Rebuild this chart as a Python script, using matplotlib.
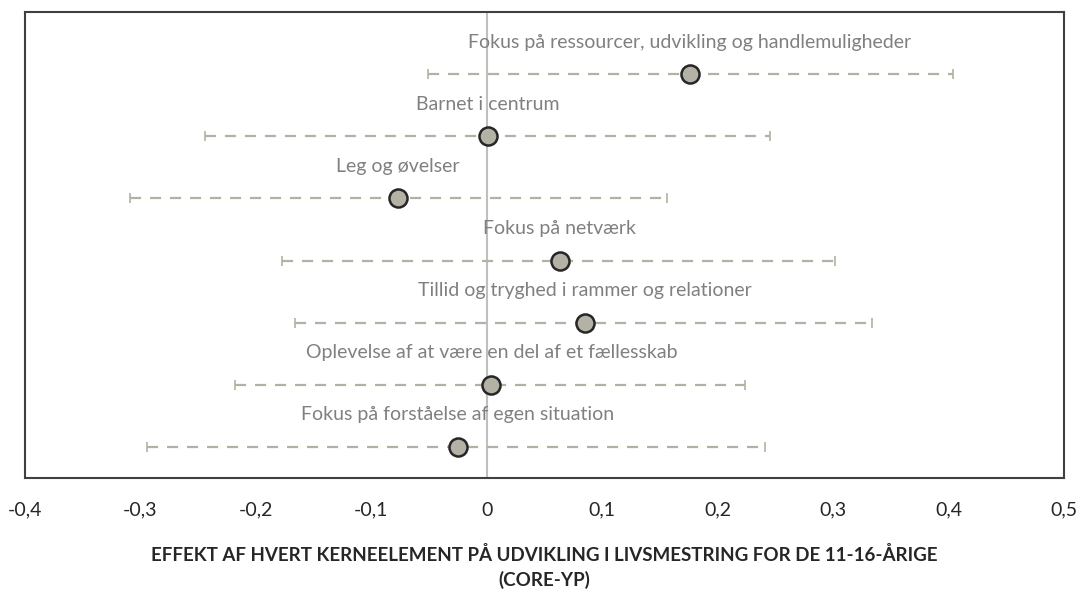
import numpy as np
import matplotlib.pyplot as plt

# Kerneelementer (top to bottom) with effect estimate and CI
elements = [
    "Fokus på ressourcer, udvikling og handlemuligheder",
    "Barnet i centrum",
    "Leg og øvelser",
    "Fokus på netværk",
    "Tillid og tryghed i rammer og relationer",
    "Oplevelse af at være en del af et fællesskab",
    "Fokus på forståelse af egen situation",
]
effect = [0.176, 0.001, -0.077, 0.063, 0.085, 0.004, -0.025]
ci_low = [-0.051, -0.244, -0.309, -0.177, -0.166, -0.218, -0.294]
ci_high = [0.404, 0.245, 0.156, 0.302, 0.334, 0.224, 0.241]

xticks = [-0.4, -0.3, -0.2, -0.1, 0, 0.1, 0.2, 0.3, 0.4, 0.5]
xtick_labels = ["-0,4", "-0,3", "-0,2", "-0,1", "0", "0,1", "0,2", "0,3", "0,4", "0,5"]
xlabel = "EFFEKT AF HVERT KERNEELEMENT PÅ UDVIKLING I LIVSMESTRING FOR DE 11-16-ÅRIGE\n(CORE-YP)"

plt.rcParams['font.family'] = ['Lato', 'DejaVu Sans']

effect = np.array(effect)
ci_low = np.array(ci_low)
ci_high = np.array(ci_high)
ypos = np.arange(len(elements), 0, -1)

fig = plt.figure(figsize=(10.83, 5.93), dpi=100)
ax = fig.add_axes([0.0231, 0.194, 0.9594, 0.7858])

ax.axvline(0, color="#bfbfbf", lw=1.5, zorder=1)

err = ax.errorbar(effect, ypos, xerr=[effect - ci_low, ci_high - effect],
                  fmt='none', ecolor="#b3b1a3", elinewidth=1.6, capsize=3.5, capthick=1.2, zorder=2)
err[2][0].set_linestyle((0, (5, 4)))

ax.plot(effect, ypos, 'o', ms=13, mfc="#b4b2a4", mec="#262626", mew=1.8, ls='none', zorder=3)

for x, y, name in zip(effect, ypos, elements):
    ax.annotate(name, (x, y), xytext=(0, 23), textcoords='offset points',
                ha='center', va='center', fontsize=14, color="#808080")

ax.set_xlim(-0.4, 0.5)
ax.set_ylim(0.5, 8)
ax.set_xticks(xticks)
ax.set_xticklabels(xtick_labels, fontsize=14, color="#262626")
ax.tick_params(axis='x', length=0, pad=17)
ax.set_yticks([])
for s in ax.spines.values():
    s.set_color("#404040")
    s.set_linewidth(1.5)

ax.set_xlabel(xlabel, fontsize=13.5, fontweight='bold', color="#262626", labelpad=20, linespacing=1.45)

fig.savefig("out.png", dpi=100)
